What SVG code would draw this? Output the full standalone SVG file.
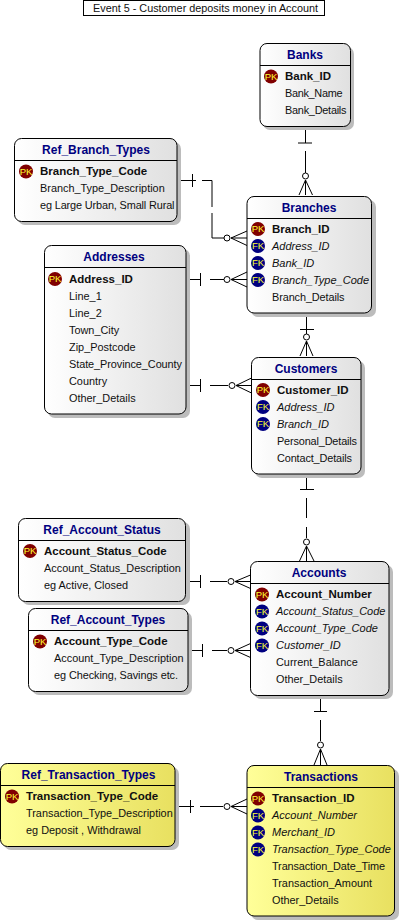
<svg xmlns="http://www.w3.org/2000/svg" width="400" height="922" viewBox="0 0 400 922">
<style>
text{font-family:"Liberation Sans",Arial,sans-serif;font-size:10.9px;fill:#101010;transform:translateY(-.5px)}
.t{font-size:12px;font-weight:bold;fill:#000080;text-anchor:middle}
.k{font-weight:bold;font-size:11.5px}
.f{font-style:italic;font-size:11px}
.sh{fill:#bcbcbc;stroke:none}
.b{fill:url(#g);stroke:#000;stroke-width:1}
.y{fill:url(#gy);stroke:#000;stroke-width:1}
.l{stroke:#000;stroke-width:1;fill:none}
.pk{fill:#800000}
.fk{fill:#000080}
.bt{font-size:9.500px;fill:#ffff33;text-anchor:middle}
#connectors path{fill:none;stroke:#000;stroke-width:1}
#connectors circle{fill:#fff;stroke:#000;stroke-width:1}
</style>
<defs>
<linearGradient id="g"><stop offset="0" stop-color="#fff"/><stop offset="1" stop-color="#e0e0e0"/></linearGradient>
<linearGradient id="gy"><stop offset="0" stop-color="#ffff99"/><stop offset="1" stop-color="#e8e060"/></linearGradient>
</defs>
<rect width="400" height="922" fill="#fff"/>
<g id="title"><rect x="83.5" y="0.5" width="241" height="15" fill="#fff" stroke="#000"/><text x="205.500" y="12" text-anchor="middle" textLength="225" lengthAdjust="spacingAndGlyphs">Event 5 - Customer deposits money in Account</text></g>

<g id="connectors">
<path d="M305.5 127V143M298 143H312M305.5 151V173M299 195L305.5 180L312.500 195M305.5 180V195"/><circle cx="305.5" cy="176" r="3"/>
<path d="M177 180.500H196M192.500 174V187M202 180.500H212V207M212 213V238H224M247 231L231 238L247 245.500M231 238H247"/><circle cx="227" cy="238" r="3"/>
<path d="M186 279.500H201M200.500 273V286M210 279.500H224M247 272L231 279.500L247 287M231 279.500H247"/><circle cx="227" cy="279.500" r="3"/>
<path d="M306.500 313.500V337M300 329.500H314M300 356L306.500 341L313 356M306.500 341V356"/><circle cx="306.500" cy="337" r="3"/>
<path d="M186 385.500H201M200.500 379V392M210 385.500H228M251.500 378L236 385.500L251.500 393M236 385.500H251.500"/><circle cx="232" cy="385.500" r="3"/>
<path d="M306.500 474V489.500M300 489.500H314M306.500 498V518M306.500 527V538M299.500 561L306.500 546L314 561M306.500 546V561"/><circle cx="306.500" cy="542" r="3"/>
<path d="M185.500 581.500H201M200.500 575V588M210 581.500H227M250.500 575L235 581.500L250.500 588.500M235 581.500H250.500"/><circle cx="231" cy="581.500" r="3"/>
<path d="M188 650.500H203M202.500 644V657M212 650.500H227M250.500 643.500L235 650.500L250.500 657.500M235 650.500H250.500"/><circle cx="231" cy="650.500" r="3"/>
<path d="M320.500 696V711.500M314 711.500H327M320.500 720V741M314 765L320.500 749L327 765M320.500 749V765"/><circle cx="320.500" cy="745" r="3"/>
<path d="M175 806.500H194M190.500 800V813M200 806.500H223M247 799L231 806.500L247 814M231 806.500H247"/><circle cx="227" cy="806.500" r="3"/>
</g>

<g id="banks"><rect class="sh" x="263" y="47" width="91" height="83" rx="7"/><rect class="b" x="260" y="43.500" width="90.500" height="83" rx="7"/><path class="l" d="M260 65.500H350.500"/><text class="t" x="305" y="59">Banks</text>
<circle class="pk" cx="271" cy="76.500" r="7"/><text class="bt" x="271" y="80">PK</text>
<text class="k" x="285" y="80.500">Bank_ID</text><text x="285" y="97.500" textLength="57.500">Bank_Name</text><text x="285" y="114.500" textLength="61.500">Bank_Details</text></g>

<g id="ref_branch_types"><rect class="sh" x="18" y="142" width="163" height="83" rx="7"/><rect class="b" x="14.500" y="138.500" width="162.500" height="83" rx="7"/><path class="l" d="M14.500 160.500H177"/><text class="t" x="96" y="154">Ref_Branch_Types</text>
<circle class="pk" cx="26" cy="171.500" r="7"/><text class="bt" x="26" y="175">PK</text>
<text class="k" x="40" y="175.500">Branch_Type_Code</text><text x="40" y="192.500">Branch_Type_Description</text><text x="40" y="209.500" textLength="134.500">eg Large Urban, Small Rural</text></g>

<g id="branches"><rect class="sh" x="251" y="200" width="125" height="117" rx="7"/><rect class="b" x="247" y="196.500" width="124.500" height="116.500" rx="7"/><path class="l" d="M247 218.500H371.500"/><text class="t" x="309" y="212">Branches</text>
<circle class="pk" cx="258" cy="229" r="7"/><text class="bt" x="258" y="232.500">PK</text>
<circle class="fk" cx="258" cy="246" r="7"/><text class="bt" x="258" y="249.500">FK</text>
<circle class="fk" cx="258" cy="263" r="7"/><text class="bt" x="258" y="266.500">FK</text>
<circle class="fk" cx="258" cy="280" r="7"/><text class="bt" x="258" y="283.500">FK</text>
<text class="k" x="272" y="233">Branch_ID</text><text class="f" x="272" y="250">Address_ID</text><text class="f" x="272" y="267">Bank_ID</text><text class="f" x="272" y="284">Branch_Type_Code</text><text x="272" y="301" textLength="72.500">Branch_Details</text></g>

<g id="addresses"><rect class="sh" x="48" y="249" width="142" height="169" rx="7"/><rect class="b" x="44.500" y="245.500" width="141.500" height="168.500" rx="7"/><path class="l" d="M44.500 267.500H186"/><text class="t" x="114" y="261">Addresses</text>
<circle class="pk" cx="55" cy="279" r="7"/><text class="bt" x="55" y="282.500">PK</text>
<text class="k" x="69" y="283">Address_ID</text><text x="69" y="300">Line_1</text><text x="69" y="317">Line_2</text><text x="69" y="334">Town_City</text><text x="69" y="351">Zip_Postcode</text><text x="69" y="368" textLength="113">State_Province_County</text><text x="69" y="385">Country</text><text x="69" y="402">Other_Details</text></g>

<g id="customers"><rect class="sh" x="255" y="361" width="110" height="117" rx="7"/><rect class="b" x="251.500" y="357.500" width="109.500" height="116.500" rx="7"/><path class="l" d="M251.500 379.500H361"/><text class="t" x="306" y="373">Customers</text>
<circle class="pk" cx="263" cy="390" r="7"/><text class="bt" x="263" y="393.500">PK</text>
<circle class="fk" cx="263" cy="407" r="7"/><text class="bt" x="263" y="410.500">FK</text>
<circle class="fk" cx="263" cy="424" r="7"/><text class="bt" x="263" y="427.500">FK</text>
<text class="k" x="277" y="394">Customer_ID</text><text class="f" x="277" y="411">Address_ID</text><text class="f" x="277" y="428">Branch_ID</text><text x="277" y="445" textLength="80">Personal_Details</text><text x="277" y="462" textLength="75">Contact_Details</text></g>

<g id="ref_account_status"><rect class="sh" x="22" y="522" width="168" height="83" rx="7"/><rect class="b" x="18.500" y="518.500" width="167" height="83" rx="7"/><path class="l" d="M18.500 540.500H185.500"/><text class="t" x="102" y="534">Ref_Account_Status</text>
<circle class="pk" cx="30" cy="551" r="7"/><text class="bt" x="30" y="554.500">PK</text>
<text class="k" x="44" y="555">Account_Status_Code</text><text x="44" y="572">Account_Status_Description</text><text x="44" y="589">eg Active, Closed</text></g>

<g id="ref_account_types"><rect class="sh" x="32" y="612" width="160" height="83" rx="7"/><rect class="b" x="28.500" y="608.500" width="159.500" height="83" rx="7"/><path class="l" d="M28.500 630.500H188"/><text class="t" x="108" y="624">Ref_Account_Types</text>
<circle class="pk" cx="40" cy="641.500" r="7"/><text class="bt" x="40" y="645">PK</text>
<text class="k" x="54" y="645.500">Account_Type_Code</text><text x="54" y="662.500">Account_Type_Description</text><text x="54" y="679.500" textLength="124">eg Checking, Savings etc.</text></g>

<g id="accounts"><rect class="sh" x="254" y="565" width="139" height="134" rx="7"/><rect class="b" x="250.500" y="561.500" width="138.500" height="134" rx="7"/><path class="l" d="M250.500 583.500H389"/><text class="t" x="319" y="577">Accounts</text>
<circle class="pk" cx="262" cy="594.500" r="7"/><text class="bt" x="262" y="598">PK</text>
<circle class="fk" cx="262" cy="611.500" r="7"/><text class="bt" x="262" y="615">FK</text>
<circle class="fk" cx="262" cy="628.500" r="7"/><text class="bt" x="262" y="632">FK</text>
<circle class="fk" cx="262" cy="645.500" r="7"/><text class="bt" x="262" y="649">FK</text>
<text class="k" x="276" y="598.500">Account_Number</text><text class="f" x="276" y="615.500">Account_Status_Code</text><text class="f" x="276" y="632.500">Account_Type_Code</text><text class="f" x="276" y="649.500">Customer_ID</text><text x="276" y="666.500">Current_Balance</text><text x="276" y="683.500">Other_Details</text></g>

<g id="ref_transaction_types"><rect class="sh" x="4" y="767" width="175" height="83" rx="7"/><rect class="y" x="0.500" y="763.500" width="174.500" height="83" rx="7"/><path class="l" d="M0.500 785.500H175"/><text class="t" x="88.500" y="779">Ref_Transaction_Types</text>
<circle class="pk" cx="12" cy="796.500" r="7"/><text class="bt" x="12" y="800">PK</text>
<text class="k" x="26" y="800.500">Transaction_Type_Code</text><text x="26" y="817.500">Transaction_Type_Description</text><text x="26" y="834.500">eg Deposit , Withdrawal</text></g>

<g id="transactions"><rect class="sh" x="251" y="769" width="148" height="151" rx="7"/><rect class="y" x="247" y="765.500" width="147.500" height="150.500" rx="7"/><path class="l" d="M247 787.500H394.500"/><text class="t" x="321" y="781">Transactions</text>
<circle class="pk" cx="258" cy="798.500" r="7"/><text class="bt" x="258" y="802">PK</text>
<circle class="fk" cx="258" cy="815.500" r="7"/><text class="bt" x="258" y="819">FK</text>
<circle class="fk" cx="258" cy="832.500" r="7"/><text class="bt" x="258" y="836">FK</text>
<circle class="fk" cx="258" cy="849.500" r="7"/><text class="bt" x="258" y="853">FK</text>
<text class="k" x="272" y="802.500">Transaction_ID</text><text class="f" x="272" y="819.500">Account_Number</text><text class="f" x="272" y="836.500">Merchant_ID</text><text class="f" x="272" y="853.500">Transaction_Type_Code</text><text x="272" y="870.500" textLength="113">Transaction_Date_Time</text><text x="272" y="887.500">Transaction_Amount</text><text x="272" y="904.500">Other_Details</text></g>
</svg>
